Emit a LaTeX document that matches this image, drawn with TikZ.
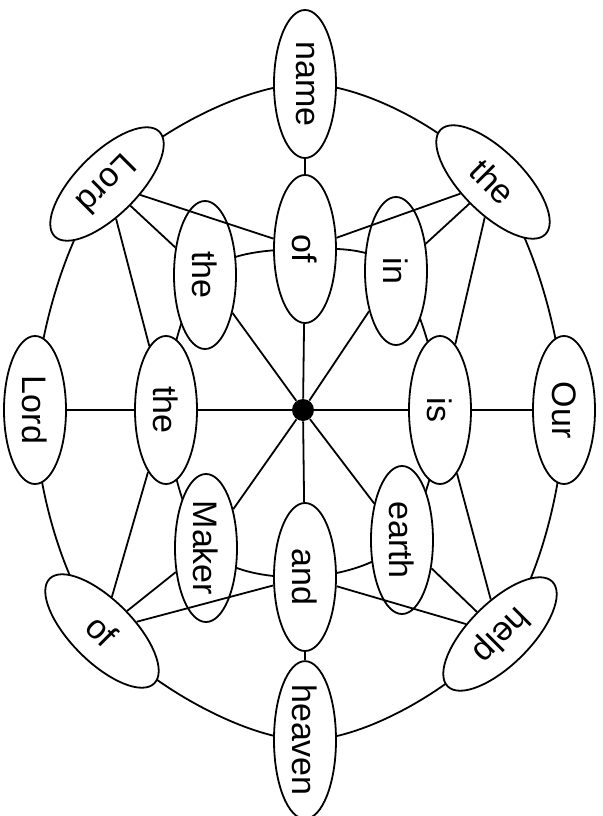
\documentclass[tikz,border=0pt]{standalone}
\usepackage{fontspec}
\setmainfont{Liberation Sans}
\usetikzlibrary{shapes.geometric,backgrounds}

\tikzset{
  word/.style={ellipse, draw, fill=white, line width=0.9pt, minimum width=74pt,
    minimum height=31pt, inner sep=0pt, font=\fontsize{17}{20}\selectfont},
  link/.style={line width=0.9pt},
}

\begin{document}
\begin{tikzpicture}[x=0.5pt,y=0.5pt]
  \useasboundingbox (-303,-406) rectangle (299,410);
  % hub
  \node[circle, fill, minimum size=11pt, inner sep=0pt] (hub) at (0,0) {};
  % inner words
  \node[word, rotate=-90] (of2) at (2,161) {of};
  \node[word, rotate=-90] (in) at (93,139) {in};
  \node[word, rotate=-90] (is) at (137,0) {is};
  \node[word, rotate=-90] (earth) at (99,-130) {earth};
  \node[word, rotate=-90] (and) at (2,-167) {and};
  \node[word, rotate=-90] (maker) at (-97,-138) {Maker};
  \node[word, rotate=-90] (the2) at (-137,0) {the};
  \node[word, rotate=-90] (the3) at (-98,135) {the};
  % outer words
  \node[word, rotate=-90] (name) at (2,326) {name};
  \node[word, rotate=-45] (the1) at (190,228) {the};
  \node[word, rotate=-90] (our) at (261,0) {Our};
  \node[word, rotate=-135] (help) at (197,-224) {help};
  \node[word, rotate=-90] (heaven) at (2,-330) {heaven};
  \node[word, rotate=-45] (of1) at (-201,-221) {of};
  \node[word, rotate=-90] (lord1) at (-268,0) {Lord};
  \node[word, rotate=-135] (lord2) at (-196,226) {Lord};
  % spokes
  \foreach \w in {of2,in,is,earth,and,maker,the2,the3}
    \draw[link] (hub) -- (\w);
  % outer to inner
  \draw[link] (name) -- (of2);
  \draw[link] (our) -- (is);
  \draw[link] (heaven) -- (and);
  \draw[link] (lord1) -- (the2);
  \foreach \w in {of2,in,is} \draw[link] (the1) -- (\w);
  \foreach \w in {is,earth,and} \draw[link] (help) -- (\w);
  \foreach \w in {and,maker,the2} \draw[link] (of1) -- (\w);
  \foreach \w in {the2,the3,of2} \draw[link] (lord2) -- (\w);
  % rings behind the words
  \begin{pgfonlayer}{background}
    \draw[link] plot[smooth cycle, tension=0.55] coordinates {(name.center) (the1.center)
      (our.center) (help.center) (heaven.center) (of1.center) (lord1.center) (lord2.center)};
    \draw[link] plot[smooth cycle, tension=0.55] coordinates {(of2.center) (in.center)
      (is.center) (earth.center) (and.center) (maker.center) (the2.center) (the3.center)};
  \end{pgfonlayer}
\end{tikzpicture}
\end{document}
